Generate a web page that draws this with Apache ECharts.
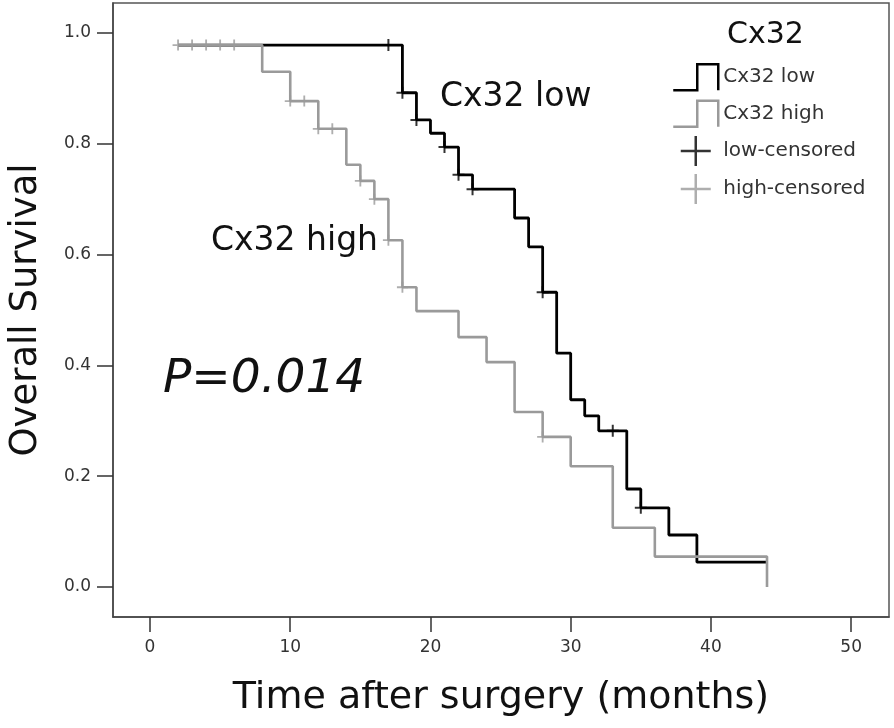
<!DOCTYPE html>
<html>
<head>
<meta charset="utf-8">
<script src="https://cdn.jsdelivr.net/npm/echarts@6/dist/echarts.min.js"></script>
<style>html,body{margin:0;padding:0;background:#fff;}#chart{width:894px;height:728px;}</style>
</head>
<body>
<div id="chart"></div>
<script>
// Cx32 low group: step times and survival after each step
const lowTimes = [2, 18, 19, 20, 21, 22, 23, 26, 27, 28, 29, 30, 31, 32, 34, 35, 37, 39, 44];
const lowSurv  = [0.978, 0.892, 0.843, 0.819, 0.794, 0.744, 0.718, 0.666, 0.614, 0.532, 0.422, 0.338, 0.309, 0.282, 0.177, 0.143, 0.094, 0.045, 0.045];
const lowCensTimes = [17, 18, 19, 21, 22, 23, 28, 33, 35];
const lowCensSurv  = [0.978, 0.892, 0.843, 0.794, 0.744, 0.718, 0.532, 0.282, 0.143];

// Cx32 high group
const highTimes = [2, 8, 10, 12, 14, 15, 16, 17, 18, 19, 22, 24, 26, 28, 30, 33, 36, 44];
const highSurv  = [0.978, 0.930, 0.877, 0.827, 0.762, 0.733, 0.700, 0.626, 0.541, 0.498, 0.451, 0.406, 0.316, 0.271, 0.218, 0.107, 0.055, 0.0];
const highCensTimes = [2, 3, 4, 5, 6, 10, 11, 12, 13, 15, 16, 17, 18, 28];
const highCensSurv  = [0.978, 0.978, 0.978, 0.978, 0.978, 0.877, 0.877, 0.827, 0.827, 0.733, 0.700, 0.626, 0.541, 0.271];

const xTicks = [0, 10, 20, 30, 40, 50];
const yTicks = [0, 0.2, 0.4, 0.6, 0.8, 1.0];

const zip = (a, b) => a.map((v, i) => [v, b[i]]);
const FONT = 'DejaVu Sans';
const BLACK = '#000000';
const GRAY = '#9a9a9a';
const PLUS = 'path://M5,0H7V5H12V7H7V12H5V7H0V5H5Z';
const PLUS_LEG = 'path://M11,0H13V11H24V13H13V24H11V13H0V11H11Z';
const STEP = 'path://M0,28L24,28L24,2L45,2L45,28';

const chart = echarts.init(document.getElementById('chart'), null, {renderer: 'canvas'});
chart.setOption({
  backgroundColor: '#ffffff',
  animation: false,
  grid: {left: 112, right: 5, top: 3, bottom: 111, show: true, borderColor: '#555', borderWidth: 1.5, containLabel: false},
  xAxis: {
    type: 'value', min: -2.64, max: 52.7,
    name: 'Time after surgery (months)', nameLocation: 'middle', nameGap: 62,
    nameTextStyle: {fontFamily: FONT, fontSize: 38, color: '#111'},
    axisLine: {show: true, onZero: false, lineStyle: {color: '#444', width: 1.5}},
    axisTick: {show: true, length: 15, customValues: xTicks, lineStyle: {color: '#333', width: 1.5}},
    axisLabel: {customValues: xTicks, margin: 22, fontFamily: FONT, fontSize: 17, color: '#333'},
    splitLine: {show: false}
  },
  yAxis: {
    type: 'value', min: -0.054, max: 1.054,
    name: 'Overall Survival', nameLocation: 'middle', nameGap: 68,
    nameTextStyle: {fontFamily: FONT, fontSize: 37, color: '#111'},
    axisLine: {show: true, onZero: false, lineStyle: {color: '#444', width: 1.5}},
    axisTick: {show: true, length: 16, customValues: yTicks, lineStyle: {color: '#333', width: 1.5}},
    axisLabel: {customValues: yTicks, margin: 22, fontFamily: FONT, fontSize: 17, color: '#333', formatter: v => v.toFixed(1)},
    splitLine: {show: false}
  },
  legend: {
    orient: 'vertical', left: 667, top: 58, itemWidth: 45, itemHeight: 30, itemGap: 8,
    selectedMode: false,
    textStyle: {fontFamily: FONT, fontSize: 20, color: '#333'},
    data: [
      {name: 'Cx32 low', icon: STEP, itemStyle: {color: 'rgba(0,0,0,0)', borderColor: BLACK, borderWidth: 2.5}},
      {name: 'Cx32 high', icon: STEP, itemStyle: {color: 'rgba(0,0,0,0)', borderColor: GRAY, borderWidth: 2.5}},
      {name: 'low-censored', icon: PLUS_LEG, itemStyle: {color: BLACK, borderWidth: 0}},
      {name: 'high-censored', icon: PLUS_LEG, itemStyle: {color: GRAY, borderWidth: 0}}
    ]
  },
  graphic: [
    {type: 'text', left: 767 - 40, top: 20, style: {text: 'Cx32', font: '30px "DejaVu Sans"', fill: '#111'}},
    {type: 'text', x: 440, y: 97, style: {text: 'Cx32 low', font: '33px "DejaVu Sans"', fill: '#111', textVerticalAlign: 'middle'}},
    {type: 'text', x: 378, y: 241, style: {text: 'Cx32 high', font: '33px "DejaVu Sans"', fill: '#111', textAlign: 'right', textVerticalAlign: 'middle'}},
    {type: 'text', x: 163, y: 380, style: {text: 'P=0.014', font: 'italic 47px "DejaVu Sans"', fill: '#111', textVerticalAlign: 'middle'}}
  ],
  series: [
    {name: 'Cx32 low', type: 'line', step: 'end', data: zip(lowTimes, lowSurv), showSymbol: false, symbol: 'none',
     lineStyle: {color: BLACK, width: 2.8}, itemStyle: {color: BLACK}, z: 2},
    {name: 'Cx32 high', type: 'line', step: 'end', data: zip(highTimes, highSurv), showSymbol: false, symbol: 'none',
     lineStyle: {color: GRAY, width: 2.6}, itemStyle: {color: GRAY}, z: 3},
    {name: 'low-censored', type: 'scatter', data: zip(lowCensTimes, lowCensSurv), symbol: PLUS, symbolSize: 12,
     itemStyle: {color: BLACK}, z: 4},
    {name: 'high-censored', type: 'scatter', data: zip(highCensTimes, highCensSurv), symbol: PLUS, symbolSize: 11,
     itemStyle: {color: GRAY}, z: 5}
  ]
});
</script>
</body>
</html>
